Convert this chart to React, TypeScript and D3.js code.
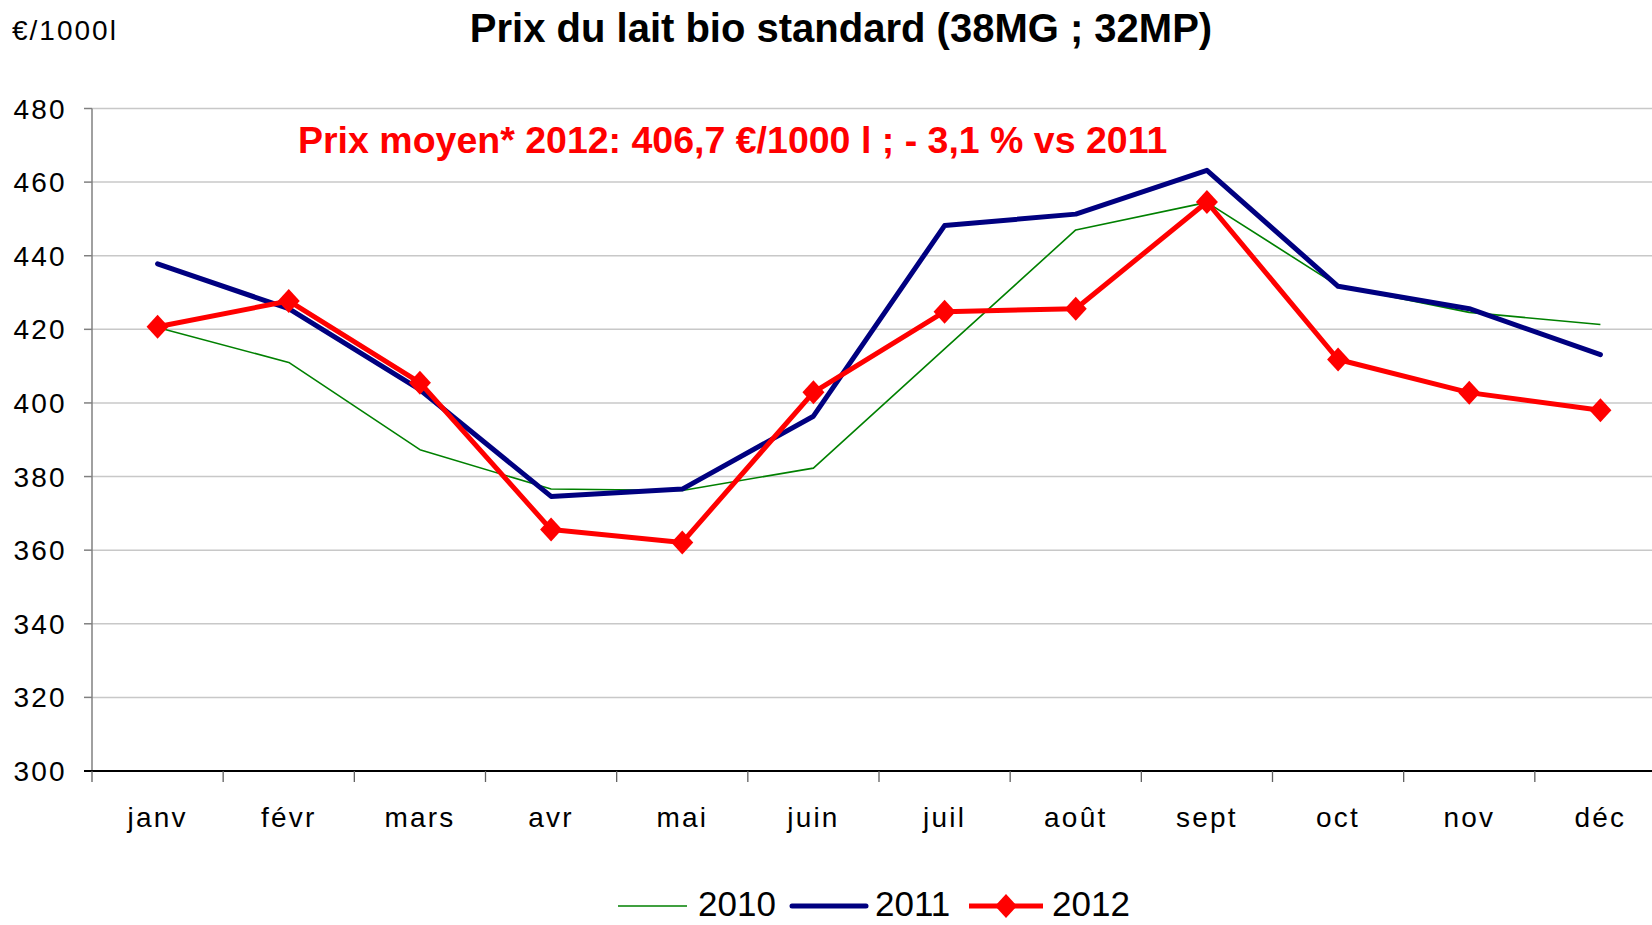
import React from "react";
import * as d3 from "d3";

const months = ["janv", "févr", "mars", "avr", "mai", "juin", "juil", "août", "sept", "oct", "nov", "déc"];
const s2010 = [420.5, 411, 387.3, 376.6, 376.2, 382.3, 414.7, 447, 454.5, 431.8, 424.6, 421.3];
const s2011 = [437.8, 425.6, 403.6, 374.6, 376.6, 396.4, 448.2, 451.3, 463.2, 431.7, 425.6, 413.1];
const s2012 = [420.7, 427.7, 405.5, 365.6, 362.1, 402.9, 424.8, 425.6, 454.6, 411.8, 402.8, 398];
const yTicks = [300, 320, 340, 360, 380, 400, 420, 440, 460, 480];
const legendYears = ["2010", "2011", "2012"];

const W = 1652;
const H = 925;
const FONT = "'Liberation Sans', Arial, sans-serif";

export default function App() {
  const x = d3.scaleBand<string>().domain(months).range([92, 1666]).paddingInner(0).paddingOuter(0);
  const y = d3.scaleLinear().domain([300, 480]).range([771, 108.5]);
  const cx = (m: string) => (x(m) as number) + x.bandwidth() / 2;
  const line = d3
    .line<number>()
    .x((_, i) => cx(months[i]))
    .y((v) => y(v));

  const diamond = (px: number, py: number) =>
    `M${px},${py - 12} L${px + 11},${py} L${px},${py + 12} L${px - 11},${py} Z`;

  const boundaries = d3.range(13).map((i) => 92 + i * x.bandwidth());

  return (
    <svg
      width={W}
      height={H}
      style={{ position: "absolute", left: 0, top: 0, background: "#fff" }}
      fontFamily={FONT}
    >
      <rect x={0} y={0} width={W} height={H} fill="#fff" />
      {/* title */}
      <text x={841} y={42} textAnchor="middle" fontSize={40} fontWeight="bold" fill="#000">
        Prix du lait bio standard (38MG ; 32MP)
      </text>
      <text x={12} y={40} fontSize={28} letterSpacing={2} fill="#000">
        €/1000l
      </text>

      {/* gridlines */}
      {yTicks.map((t) =>
        t === 300 ? null : (
          <line key={t} x1={92} x2={1666} y1={y(t)} y2={y(t)} stroke="#c8c8c8" strokeWidth={1.5} />
        )
      )}
      {/* y axis */}
      <line x1={92} x2={92} y1={y(480)} y2={y(300)} stroke="#808080" strokeWidth={1.5} />
      {yTicks.map((t) => (
        <g key={"yt" + t}>
          <line x1={84} x2={92} y1={y(t)} y2={y(t)} stroke="#808080" strokeWidth={1.5} />
          <text x={67} y={y(t) + 10} textAnchor="end" fontSize={28} letterSpacing={2.3} fill="#000">
            {t}
          </text>
        </g>
      ))}
      {/* x axis */}
      <line x1={84} x2={1666} y1={y(300)} y2={y(300)} stroke="#000" strokeWidth={2} />
      {boundaries.map((bx, i) => (
        <line key={"xt" + i} x1={bx} x2={bx} y1={y(300)} y2={y(300) + 11} stroke="#606060" strokeWidth={1.3} />
      ))}
      {months.map((m) => (
        <text key={m} x={cx(m)} y={827} textAnchor="middle" fontSize={28} letterSpacing={2.2} fill="#000">
          {m}
        </text>
      ))}

      {/* annotation */}
      <text x={298} y={153} fontSize={37.5} fontWeight="bold" fill="#ff0000">
        Prix moyen* 2012: 406,7 €/1000 l ; - 3,1 % vs 2011
      </text>

      {/* series */}
      <path d={line(s2010) || ""} fill="none" stroke="#008000" strokeWidth={1.6} strokeLinejoin="round" />
      <path d={line(s2011) || ""} fill="none" stroke="#000080" strokeWidth={5} strokeLinejoin="round" strokeLinecap="round" />
      <path d={line(s2012) || ""} fill="none" stroke="#ff0000" strokeWidth={5} strokeLinejoin="round" />
      {s2012.map((v, i) => (
        <path key={"d" + i} d={diamond(cx(months[i]), y(v))} fill="#ff0000" />
      ))}

      {/* legend */}
      <g>
        <line x1={618} x2={687} y1={906} y2={906} stroke="#008000" strokeWidth={1.6} />
        <text x={698} y={916} fontSize={35} fill="#000">{legendYears[0]}</text>
        <line x1={792} x2={866} y1={906} y2={906} stroke="#000080" strokeWidth={5} strokeLinecap="round" />
        <text x={875} y={916} fontSize={35} fill="#000">{legendYears[1]}</text>
        <line x1={969} x2={1043} y1={906} y2={906} stroke="#ff0000" strokeWidth={5} />
        <path d={diamond(1006, 906)} fill="#ff0000" />
        <text x={1052} y={916} fontSize={35} fill="#000">{legendYears[2]}</text>
      </g>
    </svg>
  );
}
